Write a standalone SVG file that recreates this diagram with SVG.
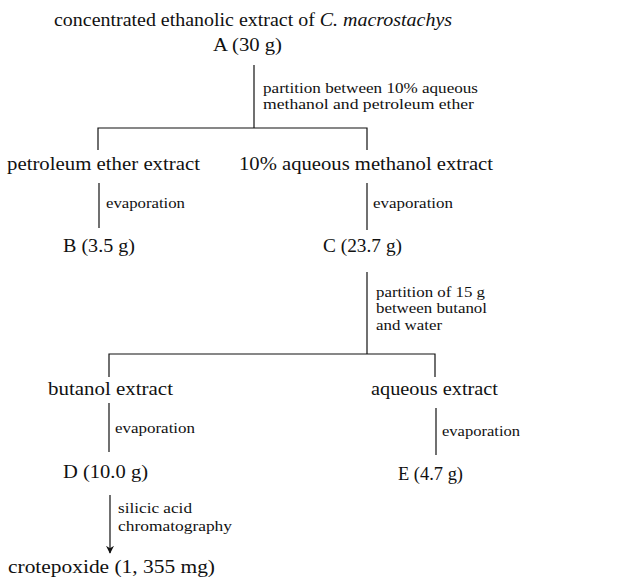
<svg xmlns="http://www.w3.org/2000/svg" width="643" height="586" viewBox="0 0 643 586">
<style>
.t{font-family:"Liberation Serif","DejaVu Serif",serif;font-size:18px;fill:#111}
.s{font-family:"Liberation Serif","DejaVu Serif",serif;font-size:14px;fill:#111}
.c{stroke:#111;stroke-width:1.2;fill:none}
</style>
<defs>
<marker id="ah" viewBox="0 0 10 10" refX="9" refY="5" markerWidth="8" markerHeight="10" markerUnits="userSpaceOnUse" orient="auto">
<path d="M0,0 L10,5 L0,10 L3,5 Z" fill="#111"/>
</marker>
</defs>
<rect width="643" height="586" fill="#fff"/>
<g id="connectors">
<path class="c" d="M254,65 V128"/>
<path class="c" d="M98,150 V128 H367 V150"/>
<path class="c" d="M99,183 V228"/>
<path class="c" d="M367,183 V230"/>
<path class="c" d="M367,272 V354"/>
<path class="c" d="M109,377 V354 H435 V377"/>
<path class="c" d="M109,403 V452"/>
<path class="c" d="M436,408 V455"/>
<path class="c" d="M110,495 V553" marker-end="url(#ah)"/>
<text class="s" x="263" y="93" textLength="215" lengthAdjust="spacingAndGlyphs">partition between 10% aqueous</text>
<text class="s" x="263" y="109" textLength="211" lengthAdjust="spacingAndGlyphs">methanol and petroleum ether</text>
<text class="s" x="106" y="208" textLength="79" lengthAdjust="spacingAndGlyphs">evaporation</text>
<text class="s" x="373" y="208" textLength="80" lengthAdjust="spacingAndGlyphs">evaporation</text>
<text class="s" x="376" y="297" textLength="109" lengthAdjust="spacingAndGlyphs">partition of 15 g</text>
<text class="s" x="376" y="313" textLength="111" lengthAdjust="spacingAndGlyphs">between butanol</text>
<text class="s" x="376" y="330" textLength="66" lengthAdjust="spacingAndGlyphs">and water</text>
<text class="s" x="115" y="433" textLength="80" lengthAdjust="spacingAndGlyphs">evaporation</text>
<text class="s" x="442" y="436" textLength="78" lengthAdjust="spacingAndGlyphs">evaporation</text>
<text class="s" x="118" y="513" textLength="74" lengthAdjust="spacingAndGlyphs">silicic acid</text>
<text class="s" x="118" y="531" textLength="114" lengthAdjust="spacingAndGlyphs">chromatography</text>
</g>
<g id="A">
<text class="t" x="54" y="26" textLength="398" lengthAdjust="spacingAndGlyphs">concentrated ethanolic extract of <tspan font-style="italic">C. macrostachys</tspan></text>
<text class="t" x="213" y="51" textLength="69" lengthAdjust="spacingAndGlyphs">A (30 g)</text>
</g>
<g id="pe">
<text class="t" x="7" y="170" textLength="193" lengthAdjust="spacingAndGlyphs">petroleum ether extract</text>
</g>
<g id="aqm">
<text class="t" x="239" y="170" textLength="254" lengthAdjust="spacingAndGlyphs">10% aqueous methanol extract</text>
</g>
<g id="B">
<text class="t" x="63" y="252" textLength="72" lengthAdjust="spacingAndGlyphs">B (3.5 g)</text>
</g>
<g id="C">
<text class="t" x="323" y="252" textLength="79" lengthAdjust="spacingAndGlyphs">C (23.7 g)</text>
</g>
<g id="bu">
<text class="t" x="48" y="395" textLength="125" lengthAdjust="spacingAndGlyphs">butanol extract</text>
</g>
<g id="aq">
<text class="t" x="371" y="395" textLength="127" lengthAdjust="spacingAndGlyphs">aqueous extract</text>
</g>
<g id="D">
<text class="t" x="63" y="478" textLength="85" lengthAdjust="spacingAndGlyphs">D (10.0 g)</text>
</g>
<g id="E">
<text class="t" x="398" y="480" textLength="65" lengthAdjust="spacingAndGlyphs">E (4.7 g)</text>
</g>
<g id="crot">
<text class="t" x="8" y="573" textLength="207" lengthAdjust="spacingAndGlyphs">crotepoxide (1, 355 mg)</text>
</g>
</svg>
